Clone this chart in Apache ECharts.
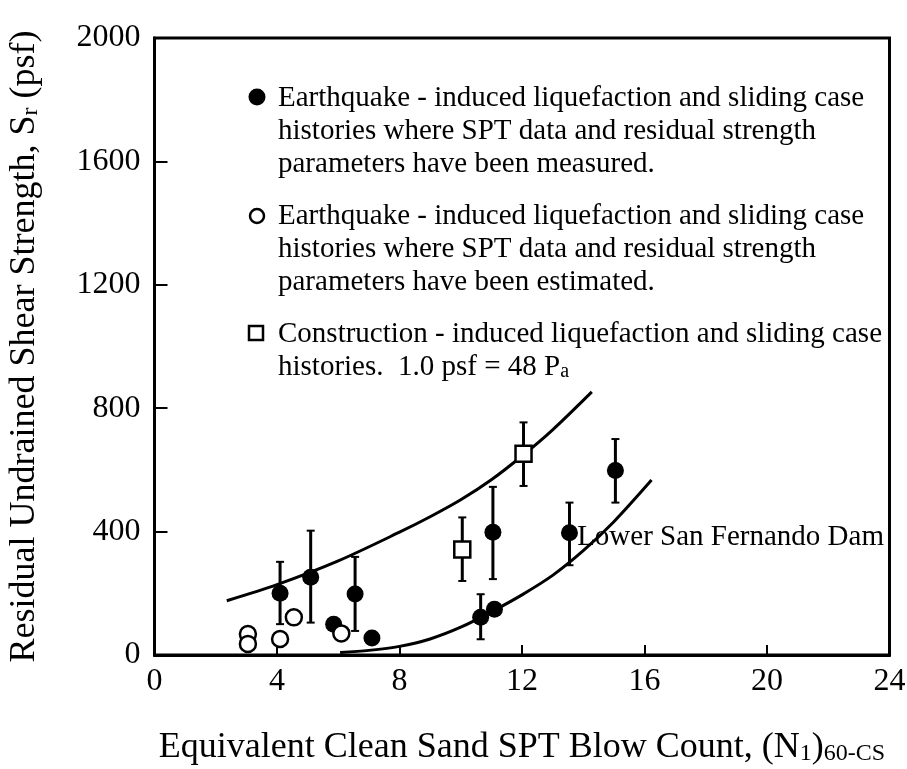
<!DOCTYPE html>
<html><head><meta charset="utf-8">
<script src="https://cdn.jsdelivr.net/npm/echarts@6/dist/echarts.min.js"></script>
<style>html,body{margin:0;padding:0;background:#fff}#c{width:907px;height:769px}</style>
</head><body><div id="c"></div>
<script>
// ---- data ----
const xTicks = [0, 4, 8, 12, 16, 20, 24];
const yTicks = [0, 400, 800, 1200, 1600, 2000];
// measured case histories (filled circles): [N, Sr]
const measured = [[4.1, 200], [5.1, 252], [6.55, 198], [5.85, 100], [7.1, 55], [10.65, 122], [11.1, 148], [11.05, 398], [13.55, 396], [15.05, 598]];
// error bars for measured points: [N, low, high]
const measuredErr = [[4.1, 100, 302], [5.1, 105, 403], [6.55, 78, 318], [10.65, 51, 197], [11.05, 246, 545], [13.55, 291, 494], [15.05, 494, 700]];
// estimated case histories (open circles)
const estimated = [[3.05, 68], [3.05, 36], [4.1, 52], [4.55, 122], [6.1, 70]];
// construction case histories (open squares)
const construction = [[12.05, 652], [10.05, 342]];
const constructionErr = [[12.05, 548, 754], [10.05, 240, 446]];
// bounding curves
const upperCurve = [[2.36, 176], [4, 228], [6, 305], [8, 398], [9, 448], [10, 503], [11, 568], [12, 645], [13, 730], [14.28, 853]];
const lowerCurve = [[6.06, 8], [7, 15], [8, 28], [9, 52], [10, 90], [11, 140], [12, 195], [13, 258], [14, 338], [15, 432], [16.23, 567]];
const annotation = 'Lower San Fernando Dam';
const annotationAt = [13.8, 396];

const FONT = '"Liberation Serif", "DejaVu Serif", serif';
const chart = echarts.init(document.getElementById('c'));

function errRender(params, api) {
  const x = api.value(0), lo = api.value(1), hi = api.value(2);
  const p1 = api.coord([x, lo]), p2 = api.coord([x, hi]);
  const cap = 4;
  return { type: 'group', children: [
    { type: 'line', shape: { x1: p1[0], y1: p1[1], x2: p2[0], y2: p2[1] }, style: { stroke: '#000', lineWidth: 3 } },
    { type: 'line', shape: { x1: p1[0] - cap, y1: p1[1], x2: p1[0] + cap, y2: p1[1] }, style: { stroke: '#000', lineWidth: 2 } },
    { type: 'line', shape: { x1: p2[0] - cap, y1: p2[1], x2: p2[0] + cap, y2: p2[1] }, style: { stroke: '#000', lineWidth: 2 } }
  ] };
}

const LF = 29;
const legendFont = LF + 'px ' + FONT;
const rich = {
  a: { fontFamily: FONT, fontSize: 36, color: '#000', verticalAlign: 'bottom', lineHeight: 40 },
  s: { fontFamily: FONT, fontSize: 24, color: '#000', verticalAlign: 'bottom', lineHeight: 32 }
};
chart.setOption({
  animation: false,
  backgroundColor: '#fff',
  grid: { left: 154.5, right: 17.5, top: 38, bottom: 114, outerBoundsMode: 'none', containLabel: false,
    show: true, borderColor: '#000', borderWidth: 3, backgroundColor: 'transparent' },
  xAxis: {
    type: 'value', min: xTicks[0], max: xTicks[xTicks.length - 1], interval: 4,
    axisLine: { show: true, onZero: false, lineStyle: { color: '#000', width: 3 } },
    axisTick: { show: true, inside: true, length: 10, lineStyle: { color: '#000', width: 2 } },
    axisLabel: { color: '#000', fontFamily: FONT, fontSize: 32, margin: 11, formatter: v => String(v) },
    splitLine: { show: false },
    name: '{a|Equivalent Clean Sand SPT Blow Count, (N}{s|1}{a|)}{s|60-CS}',
    nameLocation: 'middle', nameGap: 71,
    nameTextStyle: { rich: rich }
  },
  yAxis: {
    type: 'value', min: yTicks[0], max: yTicks[yTicks.length - 1], interval: 400,
    axisLine: { show: true, onZero: false, lineStyle: { color: '#000', width: 3 } },
    axisTick: { show: true, inside: true, length: 13, lineStyle: { color: '#000', width: 2 } },
    axisLabel: { color: '#000', fontFamily: FONT, fontSize: 32, margin: 14, formatter: v => String(v) },
    splitLine: { show: false },
    name: '{a|Residual Undrained Shear Strength, S}{s|r}{a| (psf)}',
    nameLocation: 'middle', nameGap: 112,
    nameTextStyle: { rich: rich }
  },
  series: [
    { type: 'line', data: upperCurve, smooth: 0.3, symbol: 'none', lineStyle: { color: '#000', width: 3 }, z: 1 },
    { type: 'line', data: lowerCurve, smooth: 0.3, symbol: 'none', lineStyle: { color: '#000', width: 3 }, z: 1 },
    { type: 'custom', data: measuredErr, renderItem: errRender, encode: { x: 0, y: [1, 2] }, z: 2 },
    { type: 'custom', data: constructionErr, renderItem: errRender, encode: { x: 0, y: [1, 2] }, z: 2 },
    { type: 'scatter', data: measured, symbol: 'circle', symbolSize: 17, itemStyle: { color: '#000', opacity: 1 }, z: 5 },
    { type: 'scatter', data: estimated, symbol: 'circle', symbolSize: 16, itemStyle: { color: '#fff', borderColor: '#000', borderWidth: 2.5, opacity: 1 }, z: 5 },
    { type: 'scatter', data: construction, symbol: 'rect', symbolSize: 16, itemStyle: { color: '#fff', borderColor: '#000', borderWidth: 2.5, opacity: 1 }, z: 5 },
    { type: 'scatter', data: [annotationAt], symbolSize: 0, silent: true, z: 6, itemStyle: { opacity: 1 },
      label: { show: true, position: 'right', distance: 0, offset: [0, 5], formatter: annotation, fontFamily: FONT, fontSize: LF, color: '#000', opacity: 1 } }
  ],
  graphic: [
    { type: 'circle', shape: { cx: 257, cy: 97, r: 8.5 }, style: { fill: '#000' } },
    { type: 'text', left: 278, top: 82, style: { text: 'Earthquake - induced liquefaction and sliding case\nhistories where SPT data and residual strength\nparameters have been measured.', font: legendFont, fill: '#000', lineHeight: 33 } },
    { type: 'circle', shape: { cx: 257, cy: 216, r: 7 }, style: { fill: '#fff', stroke: '#000', lineWidth: 2.5 } },
    { type: 'text', left: 278, top: 200, style: { text: 'Earthquake - induced liquefaction and sliding case\nhistories where SPT data and residual strength\nparameters have been estimated.', font: legendFont, fill: '#000', lineHeight: 33 } },
    { type: 'rect', shape: { x: 249, y: 326, width: 14, height: 14 }, style: { fill: '#fff', stroke: '#000', lineWidth: 2.5 } },
    { type: 'text', left: 278, top: 320, style: { text: '{a|Construction - induced liquefaction and sliding case}\n{a|histories.  1.0 psf = 48 P}{s|a}',
      rich: { a: { font: legendFont, fill: '#000', lineHeight: 33, verticalAlign: 'bottom' }, s: { fontFamily: FONT, fontSize: 20, fill: '#000', lineHeight: 27, verticalAlign: 'bottom' } } } }
  ]
});
</script></body></html>
